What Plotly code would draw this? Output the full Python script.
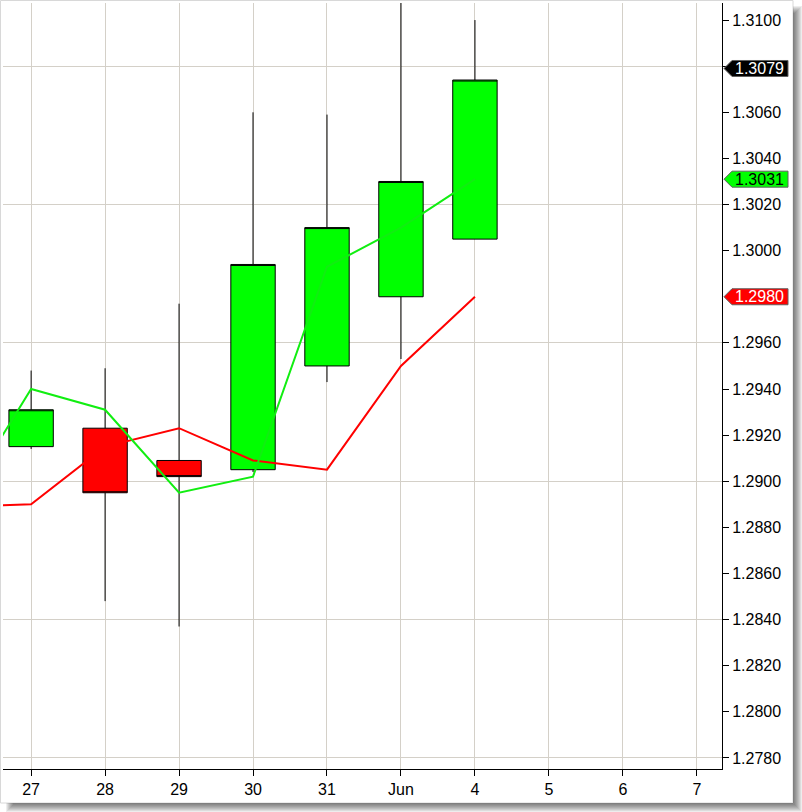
import plotly.graph_objects as go

# daily EUR/USD-style candles, x is the trading-day index
day_labels = ["27", "28", "29", "30", "31", "Jun", "4", "5", "6", "7"]
candle_idx = [0, 1, 2, 3, 4, 5, 6]
opens = [1.2915, 1.2923, 1.2909, 1.2905, 1.2950, 1.2980, 1.3005]
highs = [1.2948, 1.2949, 1.2977, 1.3060, 1.3059, 1.3112, 1.3100]
lows = [1.2914, 1.2848, 1.2837, 1.2904, 1.2943, 1.2953, 1.3005]
closes = [1.2931, 1.2895, 1.2902, 1.2994, 1.3010, 1.3030, 1.3074]

# indicator lines (start one day before the visible window)
line_idx = [-1, 0, 1, 2, 3, 4, 5, 6]
green_line = [1.2888, 1.2940, 1.2931, 1.2895, 1.2902, 1.2993, 1.3010, 1.3031]
red_line = [1.2889, 1.2890, 1.2915, 1.2923, 1.2909, 1.2905, 1.2950, 1.2980]

# price tags on the right axis
tag_values = [1.3079, 1.3031, 1.2980]
tag_fill = ["#000000", "#00ff00", "#ff0000"]
tag_text_color = ["#ffffff", "#000000", "#ffffff"]

# right axis ticks (1.2980 sits under the red price tag)
y_ticks = [1.2780, 1.2800, 1.2820, 1.2840, 1.2860, 1.2880, 1.2900, 1.2920,
           1.2940, 1.2960, 1.3000, 1.3020, 1.3040, 1.3060, 1.3080, 1.3100]
y_tick_text = ["1.2780", "1.2800", "1.2820", "1.2840", "1.2860", "1.2880", "1.2900", "1.2920",
               "1.2940", "1.2960", "1.3000", "1.3020", "1.3040", "1.3060", "", "1.3100"]

FONT = "Liberation Sans, Arial, sans-serif"
GRID = "#d4d0c8"
Y_RANGE = [1.27752, 1.31074]
X_RANGE = [-0.38, 9.34]

W, H = 802, 812
ML, MR, MT, MB = 3, 80, 3, 43
PW, PH = W - ML - MR, H - MT - MB


def px_x(px):
    return (px - ML) / PW


def px_y(py):
    return (H - MB - py) / PH


fig = go.Figure()

fig.add_trace(go.Scatter(x=line_idx, y=red_line, mode="lines",
                         line=dict(color="#ff0000", width=2), showlegend=False, hoverinfo="skip"))
fig.add_trace(go.Scatter(x=line_idx, y=green_line, mode="lines",
                         line=dict(color="#11ee11", width=2), showlegend=False, hoverinfo="skip"))

fig.add_trace(go.Candlestick(
    x=candle_idx, open=opens, high=highs, low=lows, close=closes,
    increasing=dict(line=dict(color="black", width=1), fillcolor="#00ff00"),
    decreasing=dict(line=dict(color="black", width=1), fillcolor="#ff0000"),
    whiskerwidth=0, showlegend=False,
))

# invisible trace on the overlay axis so its grid is drawn
fig.add_trace(go.Scatter(x=[None], y=[None], yaxis="y2", showlegend=False, hoverinfo="skip"))

# price tags: arrow-shaped labels pointing at the axis
half = 8 / PH * (Y_RANGE[1] - Y_RANGE[0])
for val, fill, tcol in zip(tag_values, tag_fill, tag_text_color):
    x0, x1, x2 = px_x(724), px_x(732), px_x(788)
    path = (f"M {x0},{val} L {x1},{val + half} L {x2},{val + half} "
            f"L {x2},{val - half} L {x1},{val - half} Z")
    fig.add_shape(type="path", path=path, xref="paper", yref="y",
                  fillcolor=fill, line=dict(color="#606060", width=1), layer="above")
    fig.add_annotation(x=px_x(786), y=val, xref="paper", yref="y", xanchor="right",
                       text=f"{val:.4f}", showarrow=False,
                       font=dict(family=FONT, size=16, color=tcol))

# panel border and drop shadow
PR, PB = 793, 803
fig.add_shape(type="rect", xref="paper", yref="paper",
              x0=px_x(0.5), x1=px_x(PR), y0=px_y(PB), y1=px_y(0.5),
              line=dict(color="#d8d8d8", width=1), layer="below")
for k in range(8):
    w = 9 - k
    path = (f"M {px_x(PR)},{px_y(6 + k)} L {px_x(PR + w)},{px_y(6 + k)} "
            f"L {px_x(PR + w)},{px_y(PB + w)} L {px_x(6 + k)},{px_y(PB + w)} "
            f"L {px_x(6 + k)},{px_y(PB)} L {px_x(PR)},{px_y(PB)} Z")
    fig.add_shape(type="path", path=path, xref="paper", yref="paper",
                  fillcolor="rgba(0,0,0,0.07)", line=dict(width=0), layer="below")

fig.update_layout(
    width=W, height=H,
    margin=dict(l=ML, r=MR, t=MT, b=MB),
    paper_bgcolor="white", plot_bgcolor="white",
    boxgap=0.4, boxgroupgap=0,
    font=dict(family=FONT, size=16, color="#000000"),
    xaxis=dict(
        range=X_RANGE, tickmode="array", tickvals=list(range(len(day_labels))), ticktext=day_labels,
        showgrid=True, gridcolor=GRID, gridwidth=1, zeroline=False,
        showline=True, linecolor="black", linewidth=1,
        ticks="outside", ticklen=6, tickcolor="black",
        rangeslider=dict(visible=False), fixedrange=True,
    ),
    yaxis=dict(
        range=Y_RANGE, side="right", tickmode="array", tickvals=y_ticks, ticktext=y_tick_text,
        showgrid=False, zeroline=False,
        showline=True, linecolor="black", linewidth=1,
        ticks="outside", ticklen=6, tickcolor="black",
    ),
    yaxis2=dict(
        range=Y_RANGE, overlaying="y", side="right", dtick=0.006, tick0=1.278,
        showgrid=True, gridcolor=GRID, gridwidth=1, showticklabels=False,
        zeroline=False, showline=False, ticks="",
    ),
)

# page body has a default 8px margin; drop it so the figure fills the window
fig.write_html("out.html", config={"displayModeBar": False},
               post_script="document.body.style.margin = '0';")
